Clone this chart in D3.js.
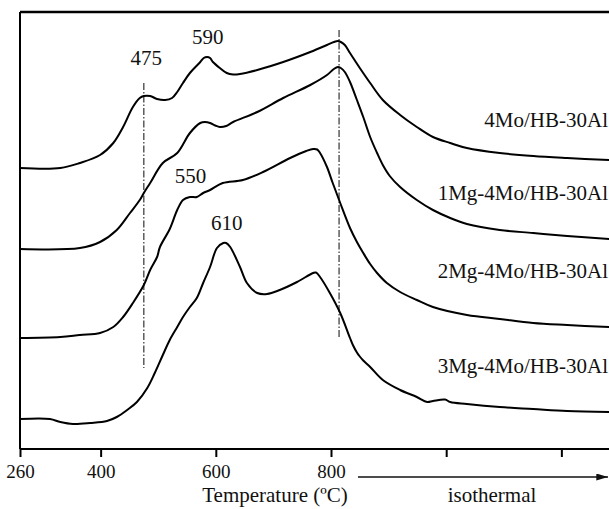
<!DOCTYPE html>
<html>
<head>
<meta charset="utf-8">
<script src="https://cdn.jsdelivr.net/npm/d3@7"></script>
<style>
  body { margin: 0; background: #fff; }
  svg text { font-family: "Liberation Serif", "Times New Roman", serif; fill: #111; }
</style>
</head>
<body>
<svg id="chart" width="609" height="509"></svg>
<script>
// TPR profiles: [temperature (°C, isothermal part continues the scale), intensity (a.u., stacked)]
const seriesNames = ['4Mo/HB-30Al', '1Mg-4Mo/HB-30Al', '2Mg-4Mo/HB-30Al', '3Mg-4Mo/HB-30Al'];

const mo4 = [
    [260, 281], [330, 281], [364, 286], [399, 294], [422, 306], [439, 322], [456, 342],
    [468, 351], [475, 353], [486, 353], [498, 350], [512, 349], [524, 351], [533, 357],
    [543, 366], [555, 376], [573, 387], [579, 391], [585, 392], [590, 391], [595, 387],
    [607, 381], [619, 376], [630, 374.5], [642, 375], [672, 379], [717, 387], [764, 397],
    [793, 404], [805, 407], [812, 408], [817, 407], [824, 404], [833, 396], [842, 388],
    [850, 381], [868, 366], [890, 349], [920, 334], [949, 322], [977, 312], [1007, 306],
    [1036, 301], [1093, 296], [1151, 293], [1210, 291], [1283, 289]
];

const mg1 = [
    [260, 200], [364, 201], [399, 207], [428, 219], [451, 236], [468, 249], [475, 256],
    [486, 266], [508, 286], [533, 296], [555, 316], [573, 326], [581, 327], [590, 326],
    [599, 323.5], [607, 322], [618, 323], [630, 327], [672, 337], [717, 351], [764, 364],
    [793, 374], [805, 380], [812, 382], [817, 381], [824, 377], [833, 367], [845, 349],
    [856, 332], [868, 312], [880, 296], [890, 284], [902, 273], [920, 262], [949, 249],
    [977, 239], [1007, 231], [1036, 225], [1093, 219], [1151, 216], [1210, 213], [1283, 210]
];

const mg2 = [
    [260, 111], [330, 112], [364, 114], [399, 116], [422, 122], [439, 132], [456, 146],
    [475, 164], [486, 179], [498, 192], [503, 202], [520, 220], [533, 239], [543, 249],
    [555, 252], [567, 252], [578, 256], [590, 259], [612, 266], [647, 269], [682, 277],
    [729, 291], [757, 298], [769, 300], [776, 299.5], [781, 296], [793, 282], [803, 266],
    [816, 246], [833, 221], [845, 207], [856, 196], [868, 185], [880, 176], [897, 166],
    [920, 157], [949, 149], [977, 142], [1036, 134], [1093, 130], [1151, 126], [1210, 124],
    [1283, 122]
];

const mg3 = [
    [260, 30], [312, 30], [330, 27], [352, 25], [382, 26], [411, 28], [428, 32], [446, 39],
    [463, 47], [481, 61], [494, 76], [508, 94], [520, 109], [533, 122], [543, 132],
    [555, 142], [567, 151], [578, 166], [590, 182], [602, 201], [613, 206], [618, 206],
    [625, 202], [642, 182], [654, 166], [672, 156], [689, 155], [711, 159], [741, 167],
    [769, 176], [774, 176.5], [781, 172], [798, 156], [816, 136], [833, 111], [838, 104],
    [845, 96.5], [850, 92.5], [856, 88.5], [868, 82], [890, 69], [920, 59], [949, 52],
    [967, 47], [977, 48], [998, 49.5], [1007, 47], [1036, 45], [1093, 42], [1151, 40],
    [1210, 38], [1283, 37]
];

const tickValues = [260, 400, 600, 800, 1000, 1200];
const labelledTicks = [260, 400, 600, 800];
const peakLabels = [475, 590, 550, 610];
const guideTemps = [475, 814];
const guideRanges = [[81, 366], [110, 419]];

// layout (positions kept apart from data)
const W = 609, H = 509;
const plotLeft = 20, plotTop = 12, plotBottom = 449;
const peakLabelPos = [[479, 384], [586, 405], [556, 266], [619, 219]];
const seriesLabelY = [127, 200, 278, 373];

const svg = d3.select('#chart');

const x = d3.scaleLinear().domain([260, 800]).range([plotLeft, 331]);
const y = d3.scaleLinear().domain([0, 437]).range([plotBottom, plotTop]);

svg.append('defs').append('clipPath').attr('id', 'plot-clip')
    .append('rect')
    .attr('x', plotLeft).attr('y', plotTop)
    .attr('width', W - plotLeft).attr('height', plotBottom - plotTop);

// Frame (open on the right)
svg.append('line')
    .attr('x1', plotLeft).attr('x2', W)
    .attr('y1', plotTop).attr('y2', plotTop)
    .attr('stroke', '#000').attr('stroke-width', 2.5);
svg.append('line')
    .attr('x1', plotLeft).attr('x2', plotLeft)
    .attr('y1', plotTop).attr('y2', plotBottom)
    .attr('stroke', '#000').attr('stroke-width', 2);
svg.append('line')
    .attr('x1', plotLeft).attr('x2', W)
    .attr('y1', plotBottom).attr('y2', plotBottom)
    .attr('stroke', '#000').attr('stroke-width', 2);

// Bottom axis
const axis = d3.axisBottom(x)
    .tickValues(tickValues)
    .tickSize(8)
    .tickSizeOuter(0)
    .tickFormat(d => labelledTicks.includes(d) ? d : '');

const gx = svg.append('g')
    .attr('transform', `translate(0,${plotBottom})`)
    .call(axis);
gx.select('.domain').remove();
gx.selectAll('.tick line').attr('stroke', '#000').attr('stroke-width', 2);
gx.selectAll('.tick text')
    .attr('y', 29).attr('dy', 0)
    .attr('font-size', 19)
    .attr('fill', '#111');

svg.append('text')
    .attr('x', 275).attr('y', 502)
    .attr('text-anchor', 'middle')
    .attr('font-size', 21)
    .text('Temperature (ºC)');

// isothermal arrow
svg.append('defs').append('marker')
    .attr('id', 'arrow')
    .attr('viewBox', '0 0 10 6')
    .attr('refX', 10).attr('refY', 3)
    .attr('markerWidth', 12).attr('markerHeight', 7)
    .attr('markerUnits', 'userSpaceOnUse')
    .attr('orient', 'auto')
    .append('path').attr('d', 'M0,0 L10,3 L0,6 Z').attr('fill', '#111');

svg.append('line')
    .attr('x1', 358).attr('x2', 608)
    .attr('y1', 477).attr('y2', 477)
    .attr('stroke', '#111').attr('stroke-width', 1.5)
    .attr('marker-end', 'url(#arrow)');

svg.append('text')
    .attr('x', 492).attr('y', 502)
    .attr('text-anchor', 'middle')
    .attr('font-size', 21)
    .text('isothermal');

// Dash-dot guides
svg.selectAll('.guide')
    .data(guideTemps)
    .join('line')
    .attr('class', 'guide')
    .attr('x1', d => x(d)).attr('x2', d => x(d))
    .attr('y1', (d, i) => y(guideRanges[i][1]))
    .attr('y2', (d, i) => y(guideRanges[i][0]))
    .attr('stroke', '#333')
    .attr('stroke-width', 1.2)
    .attr('stroke-dasharray', '7,2,1.5,2');

// Curves
const line = d3.line()
    .x(d => x(d[0]))
    .y(d => y(d[1]))
    .curve(d3.curveCatmullRom.alpha(0.5));

svg.append('g')
    .attr('clip-path', 'url(#plot-clip)')
    .selectAll('path')
    .data([mo4, mg1, mg2, mg3])
    .join('path')
    .attr('d', line)
    .attr('fill', 'none')
    .attr('stroke', '#000')
    .attr('stroke-width', 2);

// Series labels
svg.selectAll('.series-label')
    .data(seriesNames)
    .join('text')
    .attr('class', 'series-label')
    .attr('x', W - 1)
    .attr('y', (d, i) => seriesLabelY[i])
    .attr('text-anchor', 'end')
    .attr('font-size', 21)
    .text(d => d);

// Peak labels
svg.selectAll('.peak-label')
    .data(peakLabels)
    .join('text')
    .attr('class', 'peak-label')
    .attr('x', (d, i) => x(peakLabelPos[i][0]))
    .attr('y', (d, i) => y(peakLabelPos[i][1]))
    .attr('text-anchor', 'middle')
    .attr('font-size', 21)
    .text(d => d);
</script>
</body>
</html>
